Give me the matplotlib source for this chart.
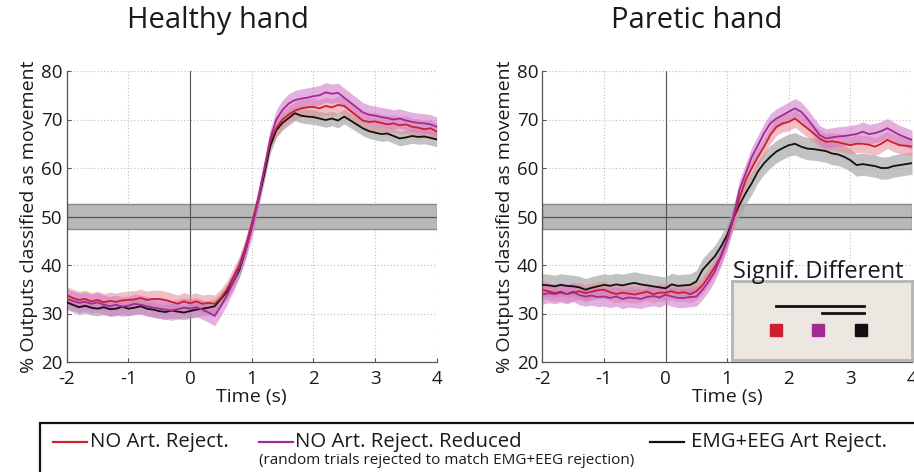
import numpy as np
import matplotlib
matplotlib.use("Agg")
import matplotlib.pyplot as plt
from matplotlib.patches import Rectangle
from matplotlib.lines import Line2D

plt.rcParams['font.family'] = ['Open Sans', 'DejaVu Sans']
plt.rcParams['axes.unicode_minus'] = False

# ---- data -------------------------------------------------------------
time_s = np.round(np.arange(-2.0, 4.0001, 0.1), 1)

healthy_red = [33.8, 33.2, 32.8, 33.0, 32.5, 32.8, 32.3, 32.6, 32.4, 32.7, 32.8,
               32.9, 33.2, 32.8, 33.0, 33.0, 32.8, 32.4, 32.0, 32.5, 32.1,
               32.5, 32.0, 32.2, 32.0, 33.2, 35.0, 37.5, 40.0, 43.8, 48.5,
               53.5, 59.5, 65.5, 68.3, 70.0, 71.0, 71.8, 72.3, 72.5, 72.6,
               72.3, 72.8, 72.5, 73.0, 72.8, 71.8, 70.8, 69.8, 69.5, 69.6,
               69.3, 69.0, 69.2, 68.8, 69.0, 68.5, 68.3, 68.0, 68.2, 67.5]
healthy_purple = [33.0, 32.6, 32.2, 32.4, 32.0, 32.3, 31.8, 31.5, 31.8, 31.4, 31.6,
                  32.0, 31.8, 31.5, 31.2, 31.0, 30.8, 30.6, 30.9, 31.2, 31.0,
                  31.3, 30.8, 30.2, 29.5, 31.5, 33.8, 36.5, 39.5, 43.0, 47.5,
                  53.0, 59.5, 66.0, 70.0, 72.0, 73.3, 74.0, 74.3, 74.5, 74.8,
                  75.0, 75.6, 75.3, 75.5, 74.5, 73.5, 72.5, 71.5, 71.0, 70.8,
                  70.5, 70.3, 70.0, 70.2, 69.8, 69.5, 69.3, 69.2, 69.0, 68.5]
healthy_black = [32.3, 31.8, 31.3, 31.6, 31.2, 31.0, 31.3, 30.9, 31.0, 31.4, 31.0,
                 31.2, 31.5, 31.0, 30.8, 30.5, 30.3, 30.6, 30.4, 30.2, 30.5,
                 30.8, 31.0, 31.2, 31.5, 33.0, 34.5, 36.5, 39.0, 43.0, 48.0,
                 53.0, 58.5, 64.5, 67.8, 69.3, 70.3, 71.3, 70.8, 70.6, 70.5,
                 70.2, 69.9, 70.2, 69.8, 70.6, 69.8, 69.0, 68.2, 67.6, 67.3,
                 67.0, 67.1, 66.6, 66.1, 66.3, 66.6, 66.4, 66.5, 66.2, 65.9]

paretic_red = [34.9, 34.6, 34.2, 34.5, 34.0, 34.3, 34.6, 34.2, 34.5, 34.8, 34.9,
               34.4, 34.0, 34.3, 34.1, 33.9, 34.2, 34.5, 34.0, 34.3, 34.3,
               34.6, 34.2, 34.4, 34.0, 34.6, 35.8, 37.6, 39.6, 41.8, 45.2,
               49.3, 53.8, 57.5, 60.0, 62.3, 64.4, 66.8, 68.5, 69.2, 69.5,
               70.2, 69.2, 68.2, 67.2, 66.1, 65.4, 65.5, 65.3, 65.0, 64.7,
               65.0, 65.0, 64.8, 64.4, 65.0, 65.8, 65.2, 64.7, 64.6, 64.4]
paretic_purple = [33.9, 34.2, 34.0, 34.3, 34.0, 34.5, 33.8, 33.5, 33.7, 33.4, 33.5,
                  33.2, 33.5, 33.0, 33.3, 33.2, 33.0, 33.4, 33.6, 33.3, 33.9,
                  33.5, 33.2, 33.2, 33.4, 33.5, 34.9, 36.6, 38.7, 41.8, 45.2,
                  50.0, 55.5, 58.9, 62.3, 64.7, 67.2, 69.2, 70.2, 70.9, 71.6,
                  72.3, 71.6, 70.2, 68.5, 66.8, 66.1, 66.3, 66.5, 66.6, 66.8,
                  67.0, 67.5, 67.0, 67.2, 67.6, 68.2, 67.5, 66.8, 66.3, 65.8]
paretic_black = [35.9, 35.8, 35.6, 35.9, 35.7, 35.6, 35.4, 34.9, 35.3, 35.6, 35.9,
                 35.7, 36.0, 35.8, 36.1, 36.3, 36.0, 35.8, 35.6, 35.4, 35.2,
                 36.0, 35.7, 35.8, 35.9, 36.6, 39.0, 40.4, 41.8, 43.8, 46.2,
                 49.7, 52.4, 54.8, 56.9, 59.3, 61.0, 62.3, 63.4, 64.1, 64.7,
                 65.0, 64.4, 64.0, 63.9, 63.7, 63.5, 63.0, 62.8, 62.3, 61.6,
                 60.6, 60.8, 60.6, 60.4, 60.0, 60.0, 60.4, 60.6, 60.8, 61.0]

# band half-widths (std. error) per series
healthy_err = {'red': 1.8, 'purple': 2.0, 'black': 1.5}
paretic_err = {'red': 1.8, 'purple': 2.0, 'black': 2.3}

chance_level = 50
chance_halfwidth = 2.5

titles = ['Healthy hand', 'Paretic hand']
legend_labels = ['NO Art. Reject.', 'NO Art. Reject. Reduced', 'EMG+EEG Art Reject.']
legend_note = '(random trials rejected to match EMG+EEG rejection)'

# ---- style ------------------------------------------------------------
line_colors = {'red': '#cc1f2e', 'purple': '#a02b95', 'black': '#111111'}
band_colors = {'red': '#e58a94', 'purple': '#d27ccb', 'black': '#a8a8a8'}
band_alpha = {'red': 0.55, 'purple': 0.6, 'black': 0.7}

W, H = 914, 472
fig = plt.figure(figsize=(W / 100, H / 100), dpi=100)

def fx(px):
    return px / W

def fy(py):
    return 1 - py / H

ax_bottom = fy(362)
ax_h = fy(71) - fy(362)
axes = [fig.add_axes([fx(66.7), ax_bottom, fx(436.7) - fx(66.7), ax_h]),
        fig.add_axes([fx(542.3), ax_bottom, fx(912) - fx(542.3), ax_h])]
title_x = [0.41, 0.418]

panels = [
    {'red': healthy_red, 'purple': healthy_purple, 'black': healthy_black},
    {'red': paretic_red, 'purple': paretic_purple, 'black': paretic_black},
]
errs = [healthy_err, paretic_err]

for ax, data, err, title, tx in zip(axes, panels, errs, titles, title_x):
    ax.set_xlim(-2, 4)
    ax.set_ylim(20, 80)
    ax.set_xticks(range(-2, 5))
    ax.set_yticks(range(20, 81, 10))
    ax.grid(True, linestyle=(0, (1, 2)), color='#bdbdbd', linewidth=0.8)
    ax.set_axisbelow(True)
    for s in ['top', 'right']:
        ax.spines[s].set_visible(False)
    for s in ['left', 'bottom']:
        ax.spines[s].set_color('#555555')
        ax.spines[s].set_linewidth(0.9)
    ax.tick_params(direction='in', length=3, width=0.8, color='#555555',
                   labelsize=13.5, labelcolor='#1a1a1a')
    ax.tick_params(axis='x', pad=6)
    ax.tick_params(axis='y', pad=3)
    # chance band
    ax.axhspan(chance_level - chance_halfwidth, chance_level + chance_halfwidth,
               facecolor='#b8b8b8', edgecolor='#8a8a8a', linewidth=1.0, zorder=1)
    ax.axhline(chance_level, color='#555555', linewidth=0.9, zorder=1.5)
    ax.axvline(0, color='#555555', linewidth=0.8, zorder=1.5)
    for key in ['black', 'red', 'purple']:
        y = np.array(data[key])
        ax.fill_between(time_s, y - err[key], y + err[key], color=band_colors[key],
                        alpha=band_alpha[key], linewidth=0, zorder=2)
    for key in ['black', 'red', 'purple']:
        ax.plot(time_s, data[key], color=line_colors[key], linewidth=1.3, zorder=3)
    ax.set_xlabel('Time (s)', fontsize=14, labelpad=0, color='#1a1a1a')
    ax.set_ylabel('% Outputs classified as movement', fontsize=14, labelpad=2,
                  color='#1a1a1a')
    ax.set_title(title, fontsize=21, pad=31, color='#1a1a1a', x=tx)

# ---- "Signif. Different" inset ----------------------------------------
fig.text(fx(733), fy(278), 'Signif. Different', fontsize=17, ha='left',
         va='baseline', color='#1a1a1a')
ins = fig.add_axes([fx(732), fy(360), fx(912) - fx(732), fy(281) - fy(360)])
ins.set_facecolor('#ece7e1')
ins.set_xlim(0, 1)
ins.set_ylim(0, 1)
ins.set_xticks([])
ins.set_yticks([])
for s in ins.spines.values():
    s.set_color('#b5b5b5')
    s.set_linewidth(2)
sq_x = [0.245, 0.48, 0.715]
sq_colors = [line_colors['red'], line_colors['purple'], line_colors['black']]
for x, c in zip(sq_x, sq_colors):
    ins.add_patch(Rectangle((x - 0.033, 0.3), 0.066, 0.15, color=c))
ins.plot([sq_x[0], sq_x[2] + 0.02], [0.68, 0.68], color='#111111', linewidth=2)
ins.plot([sq_x[1] + 0.02, sq_x[2] + 0.02], [0.59, 0.59], color='#111111', linewidth=2)

# ---- bottom legend box ------------------------------------------------
fig.add_artist(Rectangle((fx(40), -0.05), 1.0, fy(423) + 0.05,
                         transform=fig.transFigure, fill=False,
                         edgecolor='#111111', linewidth=1.6))
leg_y = fy(442)
entries = [(53, 87, 90, 'red', legend_labels[0]),
           (259, 293, 295, 'purple', legend_labels[1]),
           (650, 684, 691, 'black', legend_labels[2])]
for x0, x1, xt, key, lab in entries:
    fig.add_artist(Line2D([fx(x0), fx(x1)], [leg_y, leg_y], transform=fig.transFigure,
                          color=line_colors[key], linewidth=1.6))
    fig.text(fx(xt), leg_y, lab, fontsize=14.7, ha='left', va='center',
             color='#1a1a1a')
fig.text(fx(259), fy(460), legend_note, fontsize=11, ha='left', va='center',
         color='#1a1a1a')

fig.savefig('out.png', dpi=100)
